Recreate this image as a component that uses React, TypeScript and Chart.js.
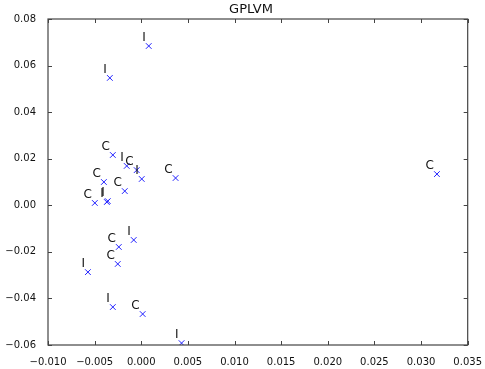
import React, { useEffect, useRef } from "react";
import { Chart, registerables } from "chart.js";

Chart.register(...registerables);

const title = "GPLVM";
const labels = ["I", "I", "C", "I", "C", "I", "C", "C", "C", "C", "C", "I", "I", "I", "C", "C", "I", "I", "C", "I"];
const xValues = [0.0008, -0.00337, -0.00305, -0.00156, -0.00049, 0.00005, 0.00368, 0.0317, -0.00401, -0.00177, -0.00498, -0.00359, -0.00369, -0.00081, -0.00241, -0.00252, -0.00572, -0.00305, 0.00015, 0.00432];
const yValues = [0.0684, 0.0547, 0.0216, 0.0169, 0.0151, 0.0113, 0.0117, 0.0134, 0.01, 0.0061, 0.001, 0.0018, 0.0014, -0.0149, -0.0179, -0.0252, -0.0287, -0.0437, -0.0467, -0.0592];
const xTicks = [-0.01, -0.005, 0, 0.005, 0.01, 0.015, 0.02, 0.025, 0.03, 0.035];
const yTicks = [-0.06, -0.04, -0.02, 0, 0.02, 0.04, 0.06, 0.08];

const FONT = "'DejaVu Sans', sans-serif";

function fmt(v: number, d: number) {
  let s = Math.abs(v) < 1e-12 ? (0).toFixed(d) : v.toFixed(d);
  return s.replace("-", "\u2212");
}

const framePlugin = {
  id: "frame",
  afterDraw(chart: any) {
    const { ctx, chartArea: a, scales } = chart;
    ctx.save();
    ctx.strokeStyle = "#444";
    ctx.lineWidth = 1.2;
    ctx.strokeRect(a.left, a.top, a.right - a.left, a.bottom - a.top);
    ctx.lineWidth = 1;
    ctx.beginPath();
    const L = 4;
    xTicks.forEach((t) => {
      const px = Math.round(scales.x.getPixelForValue(t)) + 0.5;
      ctx.moveTo(px, a.bottom);
      ctx.lineTo(px, a.bottom - L);
      ctx.moveTo(px, a.top);
      ctx.lineTo(px, a.top + L);
    });
    yTicks.forEach((t) => {
      const py = Math.round(scales.y.getPixelForValue(t)) + 0.5;
      ctx.moveTo(a.left, py);
      ctx.lineTo(a.left + L, py);
      ctx.moveTo(a.right, py);
      ctx.lineTo(a.right - L, py);
    });
    ctx.stroke();
    ctx.fillStyle = "#111";
    ctx.font = `13px ${FONT}`;
    ctx.textAlign = "center";
    ctx.textBaseline = "middle";
    ctx.fillText(title, 251, 10);
    ctx.restore();
  },
  afterDatasetsDraw(chart: any) {
    const { ctx } = chart;
    const meta = chart.getDatasetMeta(0);
    ctx.save();
    ctx.fillStyle = "#111";
    ctx.font = `12px ${FONT}`;
    ctx.textAlign = "right";
    ctx.textBaseline = "alphabetic";
    meta.data.forEach((pt: any, i: number) => {
      ctx.fillText(labels[i], pt.x - 3, pt.y - 5);
    });
    ctx.restore();
  },
};

export default function App() {
  const ref = useRef<HTMLCanvasElement>(null);
  useEffect(() => {
    if (!ref.current) return;
    const chart = new Chart(ref.current, {
      type: "scatter",
      data: {
        datasets: [
          {
            data: xValues.map((x, i) => ({ x, y: yValues[i] })),
            pointStyle: "crossRot",
            pointRadius: 4,
            pointBorderColor: "#2020ff",
            pointBackgroundColor: "#2020ff",
            pointBorderWidth: 1,
          },
        ],
      },
      options: {
        responsive: false,
        animation: false,
        layout: { padding: { left: 0, right: 16, top: 19, bottom: 0 } },
        plugins: { legend: { display: false }, tooltip: { enabled: false }, title: { display: false } },
        scales: {
          x: {
            type: "linear",
            min: -0.01,
            max: 0.035,
            grid: { display: false },
            border: { display: false },
            afterBuildTicks: (s: any) => {
              s.ticks = xTicks.map((v) => ({ value: v }));
            },
            afterFit: (s: any) => {
              s.height = 24;
            },
            ticks: {
              padding: 3,
              color: "#111",
              font: { family: FONT, size: 10 },
              maxRotation: 0,
              autoSkip: false,
              callback: (v: any) => fmt(Number(v), 3),
            },
          },
          y: {
            type: "linear",
            min: -0.06,
            max: 0.08,
            grid: { display: false },
            border: { display: false },
            afterBuildTicks: (s: any) => {
              s.ticks = yTicks.map((v) => ({ value: v }));
            },
            afterFit: (s: any) => {
              s.width = 48;
            },
            ticks: {
              padding: 4,
              color: "#111",
              font: { family: FONT, size: 10 },
              autoSkip: false,
              callback: (v: any) => fmt(Number(v), 2),
            },
          },
        },
      },
      plugins: [framePlugin],
    });
    return () => chart.destroy();
  }, []);
  return (
    <div style={{ position: "absolute", left: 0, top: 0, width: 485, height: 369, background: "#fff" }}>
      <canvas ref={ref} width={485} height={369} />
    </div>
  );
}
